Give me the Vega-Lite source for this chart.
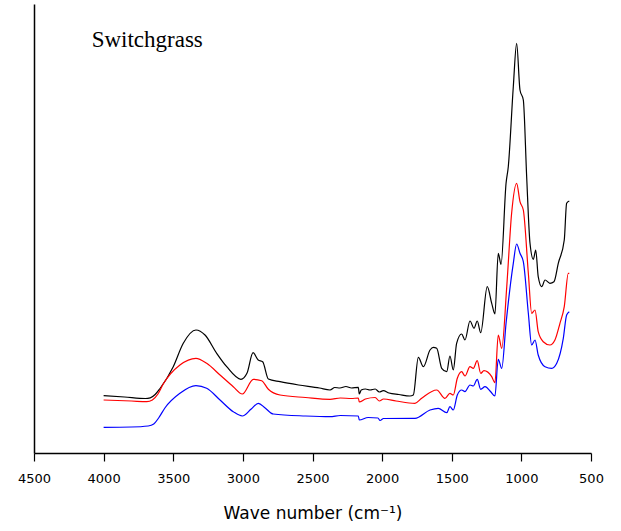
{
  "$schema": "https://vega.github.io/schema/vega-lite/v6.json",
  "width": 557,
  "height": 449,
  "autosize": {"type": "none"},
  "padding": {"left": 34, "top": 4, "right": 30, "bottom": 78},
  "background": "white",
  "config": {"view": {"stroke": null}},
  "datasets": {
    "spectra": [
      {"w": 4000, "a": 0.573, "s": "A"}, {"w": 3850, "a": 0.56, "s": "A"}, {"w": 3700, "a": 0.545, "s": "A"},
      {"w": 3665, "a": 0.552, "s": "A"}, {"w": 3630, "a": 0.585, "s": "A"}, {"w": 3595, "a": 0.645, "s": "A"}, {"w": 3500, "a": 0.863, "s": "A"},
      {"w": 3428, "a": 1.097, "s": "A"}, {"w": 3337, "a": 1.23, "s": "A"}, {"w": 3272, "a": 1.18, "s": "A"},
      {"w": 3188, "a": 0.997, "s": "A"}, {"w": 3116, "a": 0.863, "s": "A"}, {"w": 3014, "a": 0.737, "s": "A"},
      {"w": 2970, "a": 0.8, "s": "A"}, {"w": 2927, "a": 1.003, "s": "A"}, {"w": 2890, "a": 0.93, "s": "A"},
      {"w": 2858, "a": 0.913, "s": "A"}, {"w": 2817, "a": 0.74, "s": "A"}, {"w": 2733, "a": 0.713, "s": "A"},
      {"w": 2600, "a": 0.68, "s": "A"}, {"w": 2450, "a": 0.65, "s": "A"}, {"w": 2374, "a": 0.63, "s": "A"},
      {"w": 2340, "a": 0.655, "s": "A"}, {"w": 2303, "a": 0.65, "s": "A"}, {"w": 2260, "a": 0.665, "s": "A"},
      {"w": 2220, "a": 0.65, "s": "A"}, {"w": 2171, "a": 0.657, "s": "A"}, {"w": 2164, "a": 0.59, "s": "A"},
      {"w": 2150, "a": 0.63, "s": "A"}, {"w": 2120, "a": 0.64, "s": "A"}, {"w": 2087, "a": 0.63, "s": "A"},
      {"w": 2050, "a": 0.64, "s": "A"}, {"w": 2020, "a": 0.61, "s": "A"}, {"w": 1992, "a": 0.623, "s": "A"},
      {"w": 1950, "a": 0.6, "s": "A"}, {"w": 1880, "a": 0.585, "s": "A"}, {"w": 1800, "a": 0.57, "s": "A"},
      {"w": 1776, "a": 0.58, "s": "A"}, {"w": 1740, "a": 0.957, "s": "A"}, {"w": 1704, "a": 0.863, "s": "A"},
      {"w": 1656, "a": 1.03, "s": "A"}, {"w": 1633, "a": 1.057, "s": "A"}, {"w": 1608, "a": 1.047, "s": "A"},
      {"w": 1572, "a": 0.847, "s": "A"}, {"w": 1536, "a": 0.813, "s": "A"}, {"w": 1513, "a": 0.97, "s": "A"},
      {"w": 1489, "a": 0.83, "s": "A"}, {"w": 1465, "a": 1.097, "s": "A"}, {"w": 1429, "a": 1.19, "s": "A"},
      {"w": 1405, "a": 1.13, "s": "A"}, {"w": 1369, "a": 1.32, "s": "A"}, {"w": 1340, "a": 1.247, "s": "A"},
      {"w": 1317, "a": 1.32, "s": "A"}, {"w": 1292, "a": 1.203, "s": "A"}, {"w": 1245, "a": 1.663, "s": "A"},
      {"w": 1213, "a": 1.497, "s": "A"}, {"w": 1190, "a": 1.39, "s": "A"}, {"w": 1166, "a": 1.997, "s": "A"},
      {"w": 1146, "a": 1.887, "s": "A"}, {"w": 1110, "a": 2.697, "s": "A"}, {"w": 1094, "a": 2.863, "s": "A"},
      {"w": 1058, "a": 3.663, "s": "A"}, {"w": 1034, "a": 4.097, "s": "A"}, {"w": 1010, "a": 3.63, "s": "A"},
      {"w": 986, "a": 3.53, "s": "A"}, {"w": 962, "a": 2.763, "s": "A"}, {"w": 938, "a": 2.097, "s": "A"},
      {"w": 914, "a": 1.937, "s": "A"}, {"w": 897, "a": 2.03, "s": "A"}, {"w": 879, "a": 1.763, "s": "A"},
      {"w": 854, "a": 1.663, "s": "A"}, {"w": 830, "a": 1.73, "s": "A"}, {"w": 795, "a": 1.697, "s": "A"},
      {"w": 766, "a": 1.713, "s": "A"}, {"w": 735, "a": 1.897, "s": "A"}, {"w": 692, "a": 2.13, "s": "A"},
      {"w": 675, "a": 2.497, "s": "A"}, {"w": 656, "a": 2.52, "s": "A"},

      {"w": 4000, "a": 0.53, "s": "B"}, {"w": 3800, "a": 0.52, "s": "B"}, {"w": 3690, "a": 0.513, "s": "B"},
      {"w": 3650, "a": 0.53, "s": "B"}, {"w": 3610, "a": 0.59, "s": "B"},
      {"w": 3572, "a": 0.69, "s": "B"}, {"w": 3452, "a": 0.88, "s": "B"}, {"w": 3337, "a": 0.947, "s": "B"},
      {"w": 3260, "a": 0.897, "s": "B"}, {"w": 3164, "a": 0.78, "s": "B"}, {"w": 3069, "a": 0.663, "s": "B"},
      {"w": 3004, "a": 0.59, "s": "B"}, {"w": 2925, "a": 0.737, "s": "B"}, {"w": 2865, "a": 0.723, "s": "B"},
      {"w": 2817, "a": 0.637, "s": "B"}, {"w": 2733, "a": 0.58, "s": "B"}, {"w": 2550, "a": 0.555, "s": "B"},
      {"w": 2374, "a": 0.537, "s": "B"}, {"w": 2300, "a": 0.55, "s": "B"}, {"w": 2220, "a": 0.545, "s": "B"},
      {"w": 2171, "a": 0.55, "s": "B"}, {"w": 2164, "a": 0.51, "s": "B"}, {"w": 2120, "a": 0.54, "s": "B"},
      {"w": 2050, "a": 0.555, "s": "B"}, {"w": 2020, "a": 0.52, "s": "B"}, {"w": 1990, "a": 0.54, "s": "B"},
      {"w": 1900, "a": 0.52, "s": "B"}, {"w": 1764, "a": 0.497, "s": "B"}, {"w": 1716, "a": 0.547, "s": "B"},
      {"w": 1608, "a": 0.63, "s": "B"}, {"w": 1549, "a": 0.547, "s": "B"}, {"w": 1513, "a": 0.597, "s": "B"},
      {"w": 1489, "a": 0.58, "s": "B"}, {"w": 1460, "a": 0.747, "s": "B"}, {"w": 1429, "a": 0.813, "s": "B"},
      {"w": 1405, "a": 0.77, "s": "B"}, {"w": 1369, "a": 0.863, "s": "B"}, {"w": 1345, "a": 0.847, "s": "B"},
      {"w": 1317, "a": 0.923, "s": "B"}, {"w": 1292, "a": 0.797, "s": "B"}, {"w": 1269, "a": 0.823, "s": "B"},
      {"w": 1213, "a": 0.763, "s": "B"}, {"w": 1190, "a": 0.703, "s": "B"}, {"w": 1166, "a": 1.18, "s": "B"},
      {"w": 1141, "a": 1.047, "s": "B"}, {"w": 1105, "a": 1.663, "s": "B"}, {"w": 1070, "a": 2.397, "s": "B"},
      {"w": 1034, "a": 2.697, "s": "B"}, {"w": 1010, "a": 2.513, "s": "B"}, {"w": 986, "a": 2.43, "s": "B"},
      {"w": 950, "a": 1.797, "s": "B"}, {"w": 926, "a": 1.397, "s": "B"}, {"w": 902, "a": 1.43, "s": "B"},
      {"w": 879, "a": 1.213, "s": "B"}, {"w": 843, "a": 1.113, "s": "B"}, {"w": 795, "a": 1.08, "s": "B"},
      {"w": 759, "a": 1.13, "s": "B"}, {"w": 723, "a": 1.297, "s": "B"}, {"w": 692, "a": 1.463, "s": "B"},
      {"w": 663, "a": 1.797, "s": "B"}, {"w": 656, "a": 1.797, "s": "B"},

      {"w": 4000, "a": 0.257, "s": "C"}, {"w": 3800, "a": 0.26, "s": "C"}, {"w": 3680, "a": 0.27, "s": "C"},
      {"w": 3640, "a": 0.29, "s": "C"}, {"w": 3605, "a": 0.35, "s": "C"},
      {"w": 3560, "a": 0.45, "s": "C"}, {"w": 3452, "a": 0.597, "s": "C"}, {"w": 3337, "a": 0.673, "s": "C"},
      {"w": 3260, "a": 0.647, "s": "C"}, {"w": 3164, "a": 0.53, "s": "C"}, {"w": 3069, "a": 0.413, "s": "C"},
      {"w": 3004, "a": 0.37, "s": "C"}, {"w": 2940, "a": 0.44, "s": "C"}, {"w": 2889, "a": 0.497, "s": "C"},
      {"w": 2840, "a": 0.45, "s": "C"}, {"w": 2782, "a": 0.39, "s": "C"}, {"w": 2550, "a": 0.37, "s": "C"},
      {"w": 2374, "a": 0.363, "s": "C"}, {"w": 2300, "a": 0.375, "s": "C"}, {"w": 2171, "a": 0.37, "s": "C"},
      {"w": 2164, "a": 0.33, "s": "C"}, {"w": 2100, "a": 0.355, "s": "C"}, {"w": 2030, "a": 0.35, "s": "C"},
      {"w": 2015, "a": 0.325, "s": "C"}, {"w": 1990, "a": 0.345, "s": "C"}, {"w": 1776, "a": 0.347, "s": "C"},
      {"w": 1764, "a": 0.347, "s": "C"}, {"w": 1656, "a": 0.43, "s": "C"}, {"w": 1597, "a": 0.447, "s": "C"},
      {"w": 1536, "a": 0.403, "s": "C"}, {"w": 1513, "a": 0.463, "s": "C"}, {"w": 1489, "a": 0.43, "s": "C"},
      {"w": 1460, "a": 0.58, "s": "C"}, {"w": 1429, "a": 0.63, "s": "C"}, {"w": 1405, "a": 0.613, "s": "C"},
      {"w": 1369, "a": 0.68, "s": "C"}, {"w": 1345, "a": 0.67, "s": "C"}, {"w": 1317, "a": 0.737, "s": "C"},
      {"w": 1292, "a": 0.637, "s": "C"}, {"w": 1261, "a": 0.663, "s": "C"}, {"w": 1220, "a": 0.613, "s": "C"},
      {"w": 1190, "a": 0.57, "s": "C"}, {"w": 1166, "a": 0.937, "s": "C"}, {"w": 1141, "a": 0.847, "s": "C"},
      {"w": 1110, "a": 1.297, "s": "C"}, {"w": 1058, "a": 1.897, "s": "C"}, {"w": 1034, "a": 2.09, "s": "C"},
      {"w": 1010, "a": 1.997, "s": "C"}, {"w": 986, "a": 1.913, "s": "C"}, {"w": 950, "a": 1.397, "s": "C"},
      {"w": 926, "a": 1.08, "s": "C"}, {"w": 902, "a": 1.13, "s": "C"}, {"w": 879, "a": 0.98, "s": "C"},
      {"w": 830, "a": 0.863, "s": "C"}, {"w": 782, "a": 0.847, "s": "C"}, {"w": 746, "a": 0.897, "s": "C"},
      {"w": 699, "a": 1.147, "s": "C"}, {"w": 675, "a": 1.38, "s": "C"}, {"w": 656, "a": 1.413, "s": "C"}
    ],
    "label": [{"w": 4086, "a": 4.06, "t": "Switchgrass"}]
  },
  "layer": [
    {
      "data": {"name": "spectra"},
      "mark": {"type": "line", "strokeWidth": 1.2, "interpolate": "monotone"},
      "encoding": {
        "x": {
          "field": "w", "type": "quantitative",
          "scale": {"domain": [500, 4500], "reverse": true, "nice": false, "zero": false},
          "axis": {
            "values": [4500, 4250, 4000, 3750, 3500, 3250, 3000, 2750, 2500, 2250, 2000, 1750, 1500, 1250, 1000, 750, 500],
            "labelExpr": "datum.value % 500 === 0 ? datum.value : ''",
            "tickSize": {"condition": {"test": "datum.value % 500 === 0", "value": 8}, "value": 4},
            "tickColor": "black",
            "tickWidth": 1.2,
            "domainColor": "black",
            "domainWidth": 1.5,
            "grid": false,
            "labelFont": "DejaVu Sans",
            "labelFontSize": 13,
            "labelColor": "black",
            "labelPadding": 11,
            "labelFlush": false,
            "title": "Wave number (cm⁻¹)",
            "titleFont": "DejaVu Sans",
            "titleFontSize": 17,
            "titleFontWeight": "normal",
            "titleColor": "black",
            "titlePadding": 20
          }
        },
        "y": {
          "field": "a", "type": "quantitative",
          "scale": {"domain": [0, 4.49], "nice": false},
          "axis": {"title": null, "labels": false, "ticks": false, "grid": false, "domainColor": "black", "domainWidth": 1.5}
        },
        "color": {
          "field": "s", "type": "nominal",
          "scale": {"domain": ["A", "B", "C"], "range": ["#000000", "#ff0000", "#0000ff"]},
          "legend": null
        }
      }
    },
    {
      "data": {"name": "label"},
      "mark": {"type": "text", "align": "left", "baseline": "alphabetic", "font": "Liberation Serif", "fontSize": 23, "color": "black"},
      "encoding": {
        "x": {"field": "w", "type": "quantitative"},
        "y": {"field": "a", "type": "quantitative"},
        "text": {"field": "t"}
      }
    }
  ]
}
